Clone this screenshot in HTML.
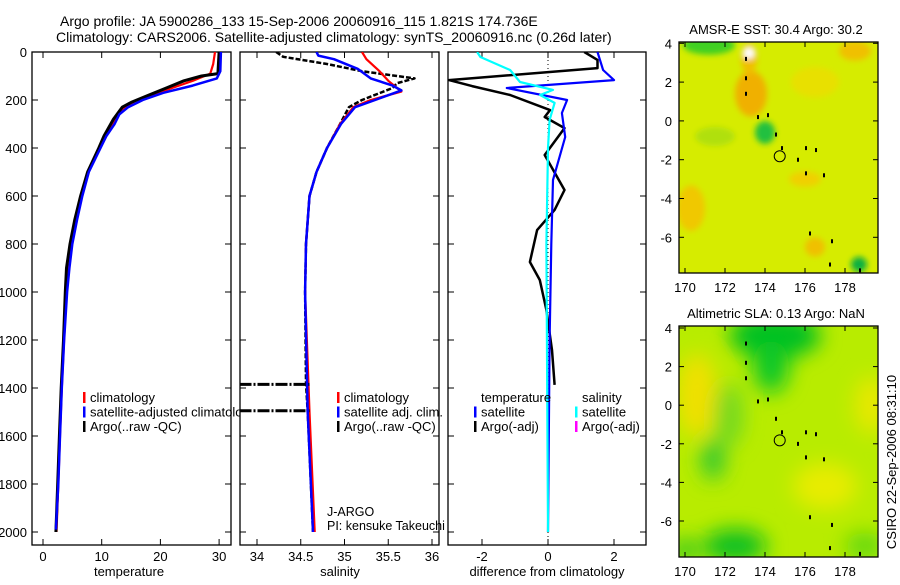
<!DOCTYPE html>
<html><head><meta charset="utf-8"><style>
body{margin:0;background:#fff;width:900px;height:580px;overflow:hidden;font-family:"Liberation Sans",sans-serif}
svg text{font-family:"Liberation Sans",sans-serif;font-size:13px;fill:#000}
</style></head><body>
<svg id="s" width="900" height="580">
<defs>
<clipPath id="c1"><rect x="32" y="52" width="199" height="493"/></clipPath>
<clipPath id="c2"><rect x="240" y="52" width="199" height="493"/></clipPath>
<clipPath id="c3"><rect x="448" y="52" width="198" height="493"/></clipPath>
<clipPath id="m1"><rect x="679" y="42" width="199" height="231"/></clipPath>
<clipPath id="m2"><rect x="679" y="326" width="199" height="231"/></clipPath>
<filter id="bl"><feGaussianBlur stdDeviation="10"/></filter>
<filter id="bs"><feGaussianBlur stdDeviation="3"/></filter>
</defs>
<text x="60" y="26" style="font-size:14px">Argo profile: JA 5900286_133 15-Sep-2006 20060916_115 1.821S 174.736E</text>
<text x="56" y="42" style="font-size:14px">Climatology: CARS2006. Satellite-adjusted climatology: synTS_20060916.nc (0.26d later)</text>
</svg>
<script>
// ---- data ----
const tClimZ=[0,50,90,120,150,180,200,230,260,300,350,400,500,600,700,800,900,1000,1200,1400,1600,1800,2000];
const tClim=[29.3,29.0,28.5,25.5,22,18.5,16,14,12.8,12,10.6,9.6,7.6,6.5,5.6,4.9,4.3,4.0,3.6,3.2,2.9,2.6,2.3];
const tSatZ=[0,80,110,140,170,200,230,260,300,350,400,500,600,700,800,900,1000,1200,1400,1600,1800,1990];
const tSat=[30.3,30.2,29.6,25.5,20.5,17,14.5,13,12.2,10.8,9.8,7.8,6.7,5.8,5.0,4.5,4.1,3.6,3.2,2.9,2.6,2.2];
const tArgoZ=[0,90,100,120,150,180,210,230,280,350,400,500,600,700,800,900,1000,1200,1400,1600,1800,2000];
const tArgo=[30.0,29.8,27,24,21,18,15,13.5,12,10.4,9.5,7.6,6.4,5.4,4.6,4.0,3.8,3.5,3.1,2.8,2.5,2.2];
const sClimZ=[0,30,80,120,150,165,200,230,300,400,500,600,800,1000,1500,2000];
const sClim=[35.2,35.25,35.4,35.5,35.6,35.65,35.3,35.1,34.95,34.8,34.68,34.6,34.56,34.55,34.6,34.66];
const sSatZ=[0,15,30,70,110,140,160,200,230,300,400,500,600,800,1000,1500,2000];
const sSat=[34.68,34.7,34.88,35.15,35.3,35.55,35.65,35.35,35.12,34.96,34.8,34.68,34.6,34.56,34.55,34.58,34.64];
const sArgoZ=[0,20,50,80,110,130,150,200,230,300,400,500,600,800,1000,1380,1500,2000];
const sArgo=[34.22,34.3,34.8,35.2,35.8,35.6,35.55,35.2,35.05,34.95,34.8,34.68,34.6,34.56,34.55,34.56,34.58,34.64];
const sSpikeZ=[1385,1495];
const dTSatZ=[0,75,117,150,200,254,354,533,800,1200,2000];
const dTSat=[1.5,1.67,2.0,-1.25,0.58,0.42,0.52,0.15,0.1,0.05,0.0];
const dTArgoZ=[0,33,67,117,142,179,242,271,317,429,575,658,742,875,950,1075,1242,1387];
const dTArgo=[1.1,1.5,1.5,-3.0,-2.3,-1.15,0.06,-0.1,0.5,-0.1,0.5,0.2,-0.33,-0.55,-0.25,-0.05,0.12,0.2];
const dSSatZ=[0,21,75,125,158,179,212,283,400,800,2000];
const dSSat=[-2.15,-2.05,-1.15,-0.85,0.15,-0.24,0.2,0.05,0.0,-0.05,0.0];
const depthTicks=[0,200,400,600,800,1000,1200,1400,1600,1800,2000];
const tTicks=[0,10,20,30];
const sTicks=[34,34.5,35,35.5,36];
const dTicks=[-2,0,2];
const latTicks=[4,2,0,-2,-4,-6];
const lonTicks=[170,172,174,176,178];
// ---- axes ----
const yZ=z=>52+0.24*z;
const xT=t=>43+5.87*t;
const xS=s=>257+87.5*(s-34);
const xD=d=>548+33*d;
const mx=l=>685+20*(l-170);
const my1=l=>43.3+19.4*(4-l);
const my2=l=>328+19.3*(4-l);
const S=document.getElementById('s');
const NS='http://www.w3.org/2000/svg';
function mk(tag,attrs,parent){const e=document.createElementNS(NS,tag);for(const k in attrs)e.setAttribute(k,attrs[k]);(parent||S).appendChild(e);return e;}
function txt(x,y,s,anchor,parent){const e=mk('text',{x:x,y:y,'text-anchor':anchor||'start'},parent);e.textContent=s;return e;}
function line(zs,vs,fx,color,w,clip,dash){
  const g=mk('g',{'clip-path':'url(#'+clip+')'});
  const pts=zs.map((z,i)=>fx(vs[i]).toFixed(1)+','+yZ(z).toFixed(1)).join(' ');
  const p=mk('polyline',{points:pts,fill:'none',stroke:color,'stroke-width':w,'stroke-linejoin':'round'},g);
  if(dash)p.setAttribute('stroke-dasharray',dash);
  return p;
}
function frame(x0,x1,name,ticks,fx){
  const g=mk('g',{});
  
  
  mk('rect',{x:x0,y:52,width:x1-x0,height:493,fill:'none',stroke:'#000','stroke-width':1.3},g);
  depthTicks.forEach(z=>{mk('line',{x1:x0,x2:x0+6,y1:yZ(z),y2:yZ(z),stroke:'#000'},g);mk('line',{x1:x1-6,x2:x1,y1:yZ(z),y2:yZ(z),stroke:'#000'},g);});
  ticks.forEach(t=>{const x=fx(t);mk('line',{x1:x,x2:x,y1:52,y2:58,stroke:'#000'},g);mk('line',{x1:x,x2:x,y1:539,y2:545,stroke:'#000'},g);txt(x,561,String(t),'middle',g);});
  return g;
}
// panel 1
const f1=frame(32,231,'temperature-panel',tTicks,xT);
depthTicks.forEach(z=>{txt(27,yZ(z)+5,String(z),'end',f1);});
txt(129,576,'temperature','middle',f1);
const l1=line(tClimZ,tClim,xT,'#f00',2.2,'c1');
const l2=line(tArgoZ,tArgo,xT,'#000',3,'c1');
const l3=line(tSatZ,tSat,xT,'#00f',2.5,'c1');
// panel 2
const f2=frame(240,439,'salinity-panel',sTicks,xS);
txt(340,576,'salinity','middle',f2);
const l5=line(sArgoZ,sArgo,xS,'#000',2.5,'c2','5,2');
const l4=line(sClimZ,sClim,xS,'#f00',2.2,'c2');
sSpikeZ.forEach(z=>{const g=mk('g',{'clip-path':'url(#c2)'});const p=mk('line',{x1:xS(33.8),x2:xS(34.6),y1:yZ(z),y2:yZ(z),stroke:'#000','stroke-width':3,'stroke-dasharray':'12,2,2,2'},g);});
const l6=line(sSatZ,sSat,xS,'#00f',2.5,'c2');
// panel 3
const f3=frame(448,646,'difference-panel',dTicks,xD);
txt(547,576,'difference from climatology','middle',f3);
mk('line',{x1:xD(0),x2:xD(0),y1:52,y2:545,stroke:'#000','stroke-dasharray':'1,3'});
const l7=line(dTArgoZ,dTArgo,xD,'#000',2.5,'c3');
const l8=line(dTSatZ,dTSat,xD,'#00f',2.2,'c3');
const l9=line(dSSatZ,dSSat,xD,'#0ff',2.2,'c3');
// legends
mk('clipPath',{id:'lgclip'},S.querySelector('defs'));mk('rect',{x:0,y:0,width:240,height:580},document.getElementById('lgclip'));
function legend(x,y,rows,name){const g=mk('g',{});
  rows.forEach((r,i)=>{if(r[0])mk('rect',{x:x,y:y+i*14.5-6,width:2.5,height:11,fill:r[0]},g);txt(x+7,y+i*14.5+4,r[1],'start',g);});return g;}
const lg1=legend(83,398,[['#f00','climatology'],['#00f','satellite-adjusted climatology'],['#000','Argo(..raw -QC)']],'temperature-legend');
lg1.setAttribute('clip-path','url(#lgclip)');
legend(337,398,[['#f00','climatology'],['#00f','satellite adj. clim.'],['#000','Argo(..raw -QC)']],'salinity-legend');
legend(474,398,[[null,'temperature'],['#00f','satellite'],['#000','Argo(-adj)']],'diff-temperature-legend');
legend(575,398,[[null,'salinity'],['#0ff','satellite'],['#f0f','Argo(-adj)']],'diff-salinity-legend');
const ja=txt(327,516,'J-ARGO');ja.style.fontSize='12.5px';
const pi=txt(327,530,'PI: kensuke Takeuchi');pi.style.fontSize='12.5px';
// maps
function map(top,fy,clip,name,title,blobs,base){
  const g=mk('g',{});
  const inner=mk('g',{'clip-path':'url(#'+clip+')'},g);
  mk('rect',{x:679,y:top,width:199,height:231,fill:base},inner);
  const bg=mk('g',{filter:blobs.f},inner);
  blobs.b.forEach(b=>mk('ellipse',{cx:mx(b[0]),cy:fy(b[1]),rx:b[2]*20,ry:b[3]*19,fill:b[4]},bg));
  [[173,3.3],[173,2.3],[173,1.5],[173.6,0.3],[174.1,0.4],[174.8,-1.3],[175.6,-1.9],[176,-1.3],[176.5,-1.4],[176,-2.6],[176.9,-2.7],[176.2,-5.7],[177.3,-6.1],[177.2,-7.3],[178.7,-7.6],[174.5,-0.6]].forEach(p=>mk('rect',{x:mx(p[0]),y:fy(p[1]),width:2,height:4,fill:'#000'},inner));
  const c=mk('circle',{cx:mx(174.736),cy:fy(-1.821),r:5.5,fill:'none',stroke:'#000','stroke-width':1},inner);
  
  mk('rect',{x:679,y:top,width:199,height:231,fill:'none',stroke:'#000','stroke-width':1.3},g);
  lonTicks.forEach(l=>{mk('line',{x1:mx(l),x2:mx(l),y1:top,y2:top+5,stroke:'#000'},g);mk('line',{x1:mx(l),x2:mx(l),y1:top+226,y2:top+231,stroke:'#000'},g);txt(mx(l),top+250,String(l),'middle',g);});
  latTicks.forEach(l=>{mk('line',{x1:679,x2:684,y1:fy(l),y2:fy(l),stroke:'#000'},g);mk('line',{x1:873,x2:878,y1:fy(l),y2:fy(l),stroke:'#000'},g);txt(672,fy(l)+5,String(l),'end',g);});
  txt(776,top-8,title,'middle',g);
}
map(42,my1,'m1','sst-map','AMSR-E SST: 30.4  Argo: 30.2',{f:'url(#bs)',b:[
 [171.2,3.9,1.3,0.5,'#40d020'],[173.3,1.4,0.8,1.2,'#f0b000'],[173.2,3.2,0.4,0.8,'#f0c000'],[174,-0.6,0.5,0.6,'#20c040'],
 [170.3,-4.5,0.7,1.2,'#f0c800'],[176,-3,0.8,0.4,'#f0d000'],[178.5,3.6,0.8,0.5,'#f0c000'],[176.5,-6.5,0.5,0.5,'#f0c000'],
 [178.7,-7.4,0.4,0.4,'#10b040'],[171.5,-0.8,1.0,0.5,'#b0e010'],[176.5,2,1.2,0.8,'#e8e000'],[173.2,3.5,0.3,0.3,'#ffffff']]},'#d6ec00');
map(326,my2,'m2','sla-map','Altimetric SLA: 0.13  Argo: NaN',{f:'url(#bl)',b:[
 [174.5,3.6,2.3,1.2,'#00c020'],[174.3,2,0.9,1.4,'#10c828'],[170.6,0.5,1.0,2.2,'#f0e000'],[171.4,-2.8,0.6,1.1,'#30c830'],
 [172.5,-7.3,1.6,0.9,'#10c020'],[177,-4.2,1.6,1.2,'#e8ec00'],[179.3,0,0.8,1.5,'#e8e800'],[172.2,-0.5,0.7,1.7,'#70d820'],[179,-7.3,1,0.7,'#60d810'],[170,-7.5,0.7,0.6,'#30c820']]},'#b8ec00');
const v=txt(0,0,'CSIRO 22-Sep-2006 08:31:10','middle');
v.setAttribute('transform','translate(896,462) rotate(-90)');


</script>
</body></html>
